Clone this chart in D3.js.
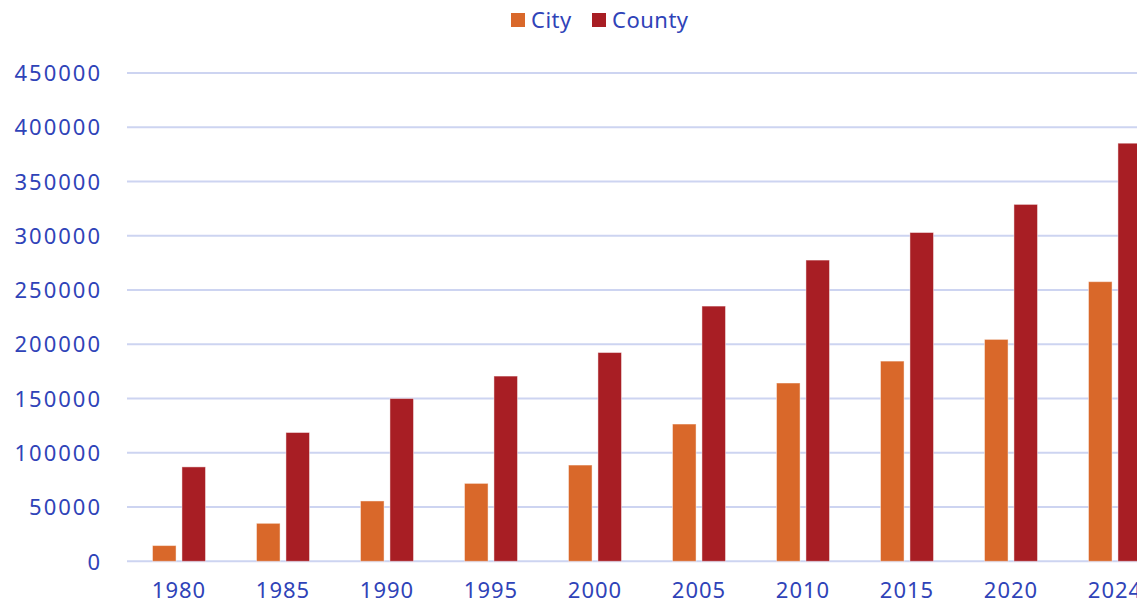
<!DOCTYPE html>
<html>
<head>
<meta charset="utf-8">
<script src="https://cdn.jsdelivr.net/npm/d3@7"></script>
<style>
  body { margin: 0; background: #fff; }
  svg text { font-family: "Noto Sans", Lato, sans-serif; fill: #2f43b8; }
</style>
</head>
<body>
<div id="chart"></div>
<script>
(function () {
  const years = ['1980', '1985', '1990', '1995', '2000', '2005', '2010', '2015', '2020', '2024'];
  const city = [14500, 35000, 55600, 71800, 88700, 126500, 164300, 184500, 204500, 257700];
  const county = [87000, 118700, 150000, 170700, 192400, 235200, 277600, 303000, 328900, 385300];
  const yTicks = [0, 50000, 100000, 150000, 200000, 250000, 300000, 350000, 400000, 450000];
  const seriesNames = ['City', 'County'];
  const colors = ['#d9682a', '#a81e24'];

  const w = 1137;
  const h = 603;
  const left = 127;
  const top = 73;
  const bottom = 561.3;

  const svg = d3.select('#chart')
    .append('svg')
    .attr('width', w)
    .attr('height', h);

  const xScale = d3.scaleBand()
    .domain(years)
    .range([left, left + 104 * years.length])
    .paddingInner(0)
    .paddingOuter(0);

  const inner = d3.scaleBand()
    .domain(seriesNames)
    .range([25.5, 104 - 25.5])
    .paddingInner(0.2);

  const yScale = d3.scaleLinear()
    .domain([0, 450000])
    .range([bottom, top]);

  // gridlines
  svg.append('g')
    .selectAll('line')
    .data(yTicks)
    .enter()
    .append('line')
    .attr('x1', left)
    .attr('x2', w)
    .attr('y1', (d) => yScale(d))
    .attr('y2', (d) => yScale(d))
    .attr('stroke', '#cdd4f1')
    .attr('stroke-width', 2);

  const yAxis = d3.axisLeft(yScale).tickValues(yTicks).tickSize(0).tickPadding(25).tickFormat(d3.format('d'));
  const gy = svg.append('g')
    .attr('transform', 'translate(' + left + ',0)')
    .call(yAxis);
  gy.select('.domain').remove();
  gy.selectAll('text')
    .style('font-size', '22px')
    .attr('dy', '0.35em')
    .attr('letter-spacing', '2px')
    .attr('fill', '#2f43b8');

  // bars
  const data = [city, county];
  data.forEach((vals, si) => {
    svg.append('g')
      .selectAll('rect')
      .data(vals)
      .enter()
      .append('rect')
      .attr('x', (d, i) => xScale(years[i]) + inner(seriesNames[si]))
      .attr('y', (d) => yScale(d))
      .attr('width', inner.bandwidth())
      .attr('height', (d) => bottom - yScale(d))
      .attr('fill', colors[si])
      .attr('stroke', 'rgba(255,255,255,0.45)')
      .attr('stroke-width', 1);
  });

  const xAxis = d3.axisBottom(xScale).tickSize(0).tickPadding(21);
  const gx = svg.append('g')
    .attr('transform', 'translate(0,' + bottom + ')')
    .call(xAxis);
  gx.select('.domain').remove();
  gx.selectAll('text')
    .style('font-size', '22px')
    .attr('letter-spacing', '1px')
    .attr('fill', '#2f43b8');

  // legend
  const legend = svg.append('g');
  const legendX = [511, 592];
  seriesNames.forEach((name, i) => {
    legend.append('rect')
      .attr('x', legendX[i])
      .attr('y', 13)
      .attr('width', 14)
      .attr('height', 14)
      .attr('fill', colors[i]);
    legend.append('text')
      .attr('x', legendX[i] + 20)
      .attr('y', 20)
      .attr('dy', '0.35em')
      .attr('letter-spacing', '0.5px')
      .style('font-size', '22px')
      .text(name);
  });
})();
</script>
</body>
</html>
